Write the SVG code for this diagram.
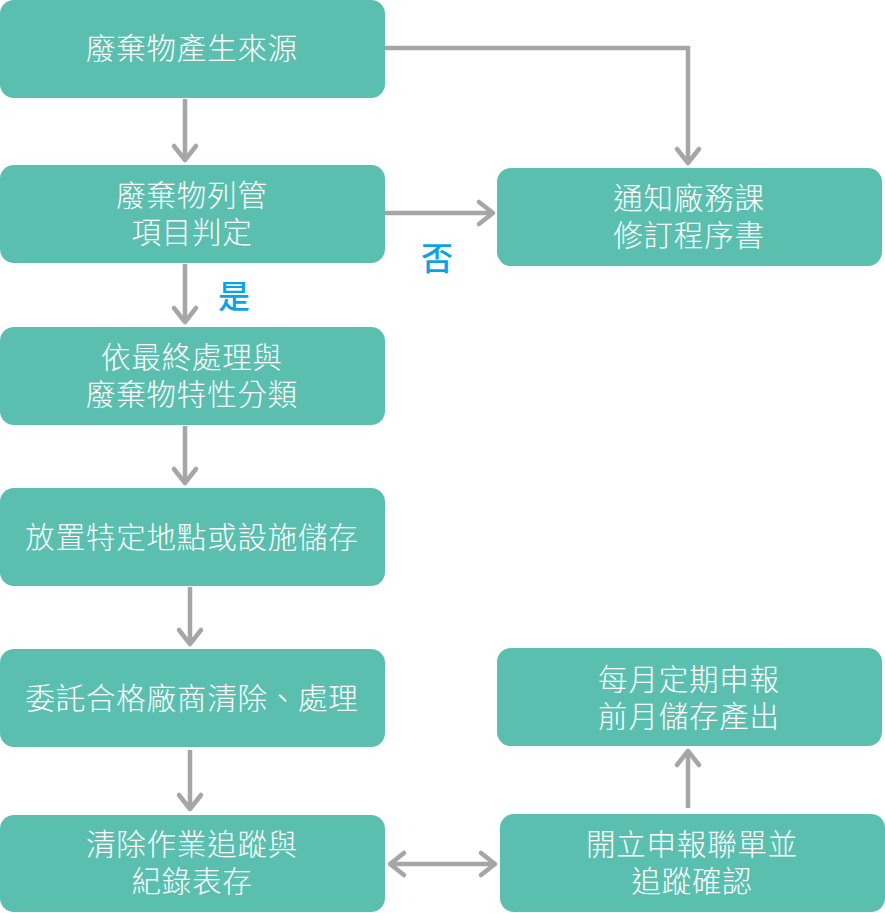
<svg xmlns="http://www.w3.org/2000/svg" width="885" height="913" viewBox="0 0 885 913">
<style>
.box{fill:#5bbfb0}
.t{font-family:"Noto Sans CJK TC","Noto Sans CJK SC",sans-serif;font-size:29.5px;fill:#ffffff;text-anchor:middle;letter-spacing:0.8px;font-weight:300}
.lbl{font-family:"Noto Sans CJK TC","Noto Sans CJK SC",sans-serif;font-size:32px;fill:#0aa4e6;text-anchor:middle;font-weight:500}
.c{fill:none;stroke:#a6a6a6;stroke-width:4.5}
.h{fill:none;stroke:#a6a6a6;stroke-width:4.5;stroke-linecap:round;stroke-linejoin:round}
</style>
<rect width="885" height="913" fill="#ffffff"/>
<g id="connectors">
<line class="c" x1="185" y1="99" x2="185" y2="160"/><polyline class="h" points="174,146 185,160 196,146"/>
<polyline class="c" points="385,48 688,48 688,163"/><polyline class="h" points="677,149 688,163 699,149"/>
<line class="c" x1="385" y1="213" x2="493" y2="213"/><polyline class="h" points="479,202 493,213 479,224"/>
<line class="c" x1="185" y1="264" x2="185" y2="322"/><polyline class="h" points="174,308 185,322 196,308"/>
<line class="c" x1="185" y1="426" x2="185" y2="483"/><polyline class="h" points="174,469 185,483 196,469"/>
<line class="c" x1="190" y1="587" x2="190" y2="644"/><polyline class="h" points="179,630 190,644 201,630"/>
<line class="c" x1="190" y1="750" x2="190" y2="809"/><polyline class="h" points="179,795 190,809 201,795"/>
<line class="c" x1="390" y1="864" x2="495" y2="864"/><polyline class="h" points="404,853 390,864 404,875"/><polyline class="h" points="481,853 495,864 481,875"/>
<line class="c" x1="688" y1="808" x2="688" y2="751"/><polyline class="h" points="677,765 688,751 699,765"/>
<text class="lbl" x="234" y="308">是</text>
<text class="lbl" x="437" y="270">否</text>
</g>
<g id="n1"><rect class="box" x="0" y="0" width="385" height="98" rx="14"/><text class="t" x="192" y="59">廢棄物產生來源</text></g>
<g id="n2"><rect class="box" x="0" y="165" width="385" height="98" rx="14"/><text class="t" x="192" y="206">廢棄物列管</text><text class="t" x="192" y="243">項目判定</text></g>
<g id="n3"><rect class="box" x="0" y="327" width="385" height="98" rx="14"/><text class="t" x="192" y="368">依最終處理與</text><text class="t" x="192" y="405">廢棄物特性分類</text></g>
<g id="n4"><rect class="box" x="0" y="488" width="385" height="98" rx="14"/><text class="t" x="192" y="548">放置特定地點或設施儲存</text></g>
<g id="n5"><rect class="box" x="0" y="649" width="385" height="98" rx="14"/><text class="t" x="192" y="709">委託合格廠商清除、處理</text></g>
<g id="n6"><rect class="box" x="0" y="815" width="385" height="97" rx="14"/><text class="t" x="192" y="855">清除作業追蹤與</text><text class="t" x="192" y="892">紀錄表存</text></g>
<g id="r1"><rect class="box" x="497" y="168" width="385" height="98" rx="14"/><text class="t" x="689" y="209">通知廠務課</text><text class="t" x="689" y="246">修訂程序書</text></g>
<g id="r2"><rect class="box" x="497" y="648" width="385" height="98" rx="14"/><text class="t" x="689" y="690">每月定期申報</text><text class="t" x="689" y="727">前月儲存產出</text></g>
<g id="r3"><rect class="box" x="500" y="814" width="385" height="98" rx="14"/><text class="t" x="692" y="855">開立申報聯單並</text><text class="t" x="692" y="892">追蹤確認</text></g>
</svg>
